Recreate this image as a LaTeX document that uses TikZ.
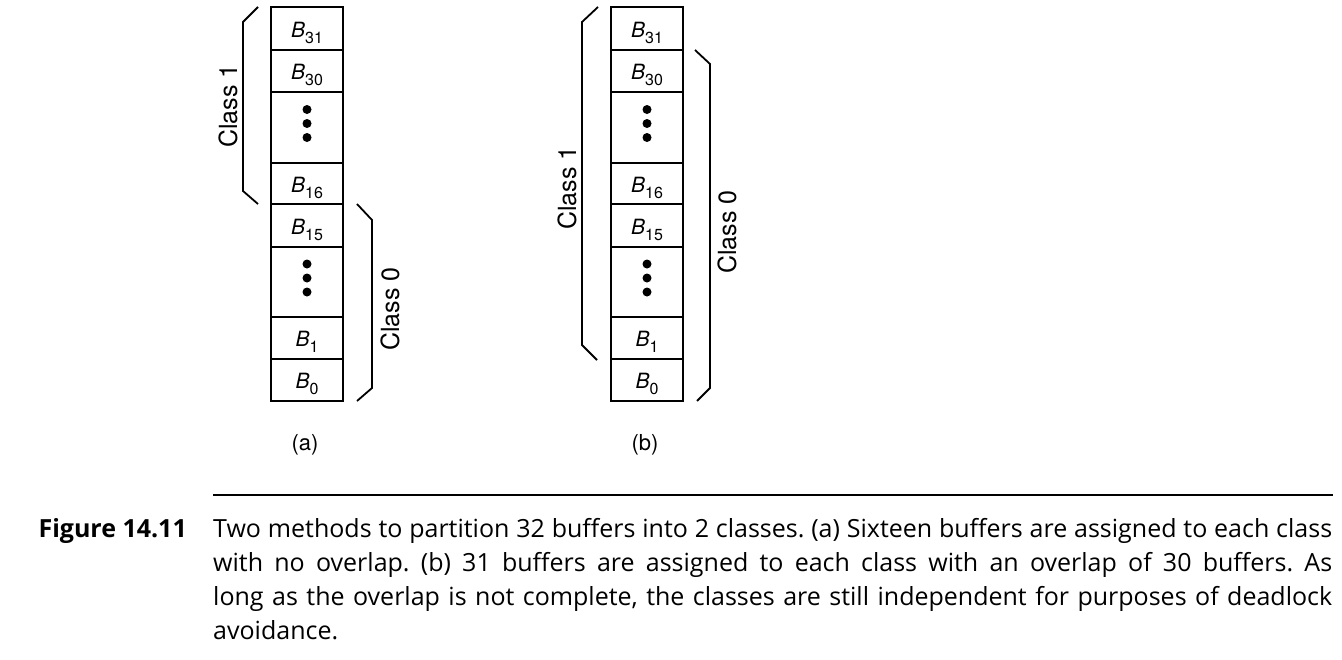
\documentclass[tikz,border=0pt]{standalone}
\usepackage{fontspec}
\setmainfont{Open Sans}
\newfontfamily\helv{TeX Gyre Heros}
\newcommand\bsub[1]{\textit{B}\raisebox{-6pt}{\upshape\fontsize{16}{16}\selectfont #1}}
\begin{document}
\begin{tikzpicture}[x=1pt,y=-1pt,
  cell/.style={draw, line width=1.8pt, minimum width=72pt, inner sep=0pt,
    font=\helv\fontsize{21}{21}\selectfont, text height=17pt, text depth=0pt},
  brace/.style={line width=1.8pt},
  classlab/.style={rotate=90, inner sep=0pt, font=\helv\fontsize{25}{25}\selectfont},
  sublab/.style={inner sep=0pt, font=\helv\fontsize{22}{22}\selectfont},
  dot/.style={fill=black}]
\useasboundingbox (0,0) rectangle (1342,659);
\fill[white] (0,0) rectangle (1342,659);

% ---------- column (a)
\node[cell, minimum height=43pt] (a31) at (307,28.5) {\bsub{31}};
\node[cell, minimum height=42pt] (a30) at (307,71) {\bsub{30}};
\node[cell, minimum height=71pt] (ad1) at (307,127.5) {};
\node[cell, minimum height=41pt] (a16) at (307,183.5) {\bsub{16}};
\node[cell, minimum height=43pt] (a15) at (307,225.5) {\bsub{15}};
\node[cell, minimum height=70pt] (ad2) at (307,282) {};
\node[cell, minimum height=42pt] (a1) at (307,338) {\bsub{1}};
\node[cell, minimum height=42pt] (a0) at (307,380) {\bsub{0}};
\foreach \c in {ad1,ad2}{
  \fill[dot] ([yshift=18pt]\c.center) circle (4.5pt);
  \fill[dot] ([yshift=4pt]\c.center) circle (4.5pt);
  \fill[dot] ([yshift=-10pt]\c.center) circle (4.5pt);
}
\draw[brace] (258,7) -- (243,22) -- (243,191) -- (258,204);
\draw[brace] (357,204) -- (372,220) -- (372,388) -- (357,401);
\node[classlab] (ac1) at (228,106) {Class 1};
\node[classlab] (ac0) at (390,309) {Class 0};
\node[sublab] (la) at (305,445) {(a)};

% ---------- column (b)
\node[cell, minimum height=43pt] (b31) at (647,28.5) {\bsub{31}};
\node[cell, minimum height=42pt] (b30) at (647,71) {\bsub{30}};
\node[cell, minimum height=71pt] (bd1) at (647,127.5) {};
\node[cell, minimum height=41pt] (b16) at (647,183.5) {\bsub{16}};
\node[cell, minimum height=43pt] (b15) at (647,225.5) {\bsub{15}};
\node[cell, minimum height=70pt] (bd2) at (647,282) {};
\node[cell, minimum height=42pt] (b1) at (647,338) {\bsub{1}};
\node[cell, minimum height=42pt] (b0) at (647,380) {\bsub{0}};
\foreach \c in {bd1,bd2}{
  \fill[dot] ([yshift=18pt]\c.center) circle (4.5pt);
  \fill[dot] ([yshift=4pt]\c.center) circle (4.5pt);
  \fill[dot] ([yshift=-10pt]\c.center) circle (4.5pt);
}
\draw[brace] (598,7) -- (582,22) -- (582,345) -- (597,360);
\draw[brace] (695,50) -- (710,64) -- (710,388) -- (697,401);
\node[classlab] (bc1) at (567,188) {Class 1};
\node[classlab] (bc0) at (727,232) {Class 0};
\node[sublab] (lb) at (645,445) {(b)};

% ---------- caption
\draw[line width=1.6pt] (213,495) -- (1333,495);
\node[anchor=base east, inner sep=0pt, font=\bfseries\fontsize{25}{34}\selectfont] (fig) at (187,537) {Figure 14.11};
\node[anchor=base west, inner sep=0pt, font=\fontsize{25}{34}\selectfont] (cap) at (213,537)
  {\parbox[t]{1119pt}{\frenchspacing Two methods to partition 32 buffers into 2 classes. (a) Sixteen buffers are assigned to each class\linebreak
  with no overlap. (b) 31 buffers are assigned to each class with an overlap of 30 buffers. As\linebreak
  long as the overlap is not complete, the classes are still independent for purposes of deadlock\linebreak
  avoidance.}};
\end{tikzpicture}
\end{document}
